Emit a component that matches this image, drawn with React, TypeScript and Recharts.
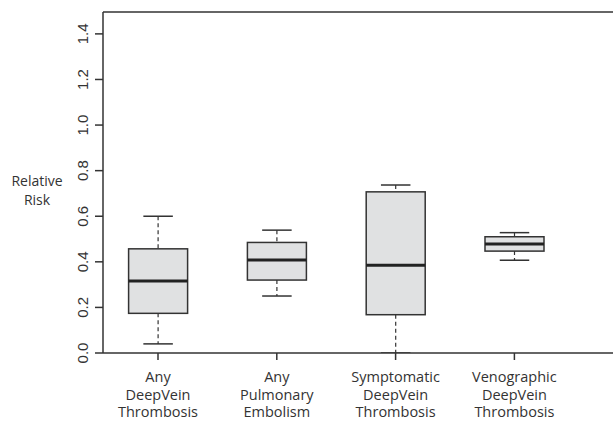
import { ComposedChart, Bar, XAxis, YAxis, ReferenceLine } from 'recharts';

const categories = [
  ['Any', 'DeepVein', 'Thrombosis'],
  ['Any', 'Pulmonary', 'Embolism'],
  ['Symptomatic', 'DeepVein', 'Thrombosis'],
  ['Venographic', 'DeepVein', 'Thrombosis'],
];
const whiskerLow = [0.04, 0.25, 0.0, 0.407];
const q1 = [0.174, 0.32, 0.168, 0.447];
const median = [0.316, 0.408, 0.385, 0.478];
const q3 = [0.457, 0.485, 0.707, 0.51];
const whiskerHigh = [0.6, 0.539, 0.737, 0.528];
const yTicks = [0, 0.2, 0.4, 0.6, 0.8, 1.0, 1.2, 1.4];

const Y_MAX = 1.496;
const INK = '#333333';
const BOX_FILL = '#e0e1e2';

const data = categories.map((lines, i) => ({
  pos: i + 1,
  lines,
  lo: whiskerLow[i],
  q1: q1[i],
  med: median[i],
  q3: q3[i],
  hi: whiskerHigh[i],
}));

// draws one box and whiskers inside the range bar [lo, hi]
const BoxShape = (props: any) => {
  const { x, y, width, height, payload } = props;
  const top = Math.min(y, y + height);
  const h = Math.abs(height);
  const span = payload.hi - payload.lo;
  const py = (v: number) => top + ((payload.hi - v) / span) * h;
  const cx = x + width / 2;
  const capHalf = width / 4;
  const yHi = py(payload.hi);
  const yQ3 = py(payload.q3);
  const yMed = py(payload.med);
  const yQ1 = py(payload.q1);
  const yLo = py(payload.lo);
  return (
    <g>
      <line x1={cx} x2={cx} y1={yHi} y2={yQ3} stroke={INK} strokeWidth={1.2} strokeDasharray="4 3" />
      <line x1={cx} x2={cx} y1={yQ1} y2={yLo} stroke={INK} strokeWidth={1.2} strokeDasharray="4 3" />
      <line x1={cx - capHalf} x2={cx + capHalf} y1={yHi} y2={yHi} stroke={INK} strokeWidth={1.5} />
      <line x1={cx - capHalf} x2={cx + capHalf} y1={yLo} y2={yLo} stroke={INK} strokeWidth={1.5} />
      <rect x={x} y={yQ3} width={width} height={yQ1 - yQ3} fill={BOX_FILL} stroke={INK} strokeWidth={1.5} />
      <line x1={x} x2={x + width} y1={yMed} y2={yMed} stroke="#222" strokeWidth={3} />
    </g>
  );
};

const XTick = (props: any) => {
  const { x, y, payload } = props;
  const lines = categories[payload.value - 1] || [];
  return (
    <text x={x} y={y} textAnchor="middle" fill={INK} fontSize={14.5} fontFamily="'Open Sans', sans-serif">
      {lines.map((l, i) => (
        <tspan key={i} x={x} y={y + 20 + i * 17.5}>
          {l}
        </tspan>
      ))}
    </text>
  );
};

const YTick = (props: any) => {
  const { y, payload } = props;
  const tx = 88;
  return (
    <text
      x={tx}
      y={y}
      transform={`rotate(-90 ${tx} ${y})`}
      textAnchor="middle"
      fill={INK}
      fontSize={15}
      fontFamily="'Liberation Sans', Arial, sans-serif"
    >
      {payload.value.toFixed(1)}
    </text>
  );
};

const YLabel = () => (
  <g fill={INK} fontSize={14} fontFamily="'Open Sans', sans-serif">
    <text x={37} y={186} textAnchor="middle">Relative</text>
    <text x={37} y={205} textAnchor="middle">Risk</text>
  </g>
);

export default function App() {
  return (
    <div style={{ width: 613, height: 421, background: '#fff' }}>
      <style>{'body{margin:0}'}</style>
      <ComposedChart width={613} height={421} data={data} margin={{ top: 12, right: 0, bottom: 0, left: 0 }}>
        <XAxis
          type="number"
          dataKey="pos"
          domain={[0.537, 4.83]}
          ticks={[1, 2, 3, 4]}
          allowDataOverflow
          tick={<XTick />}
          tickSize={7}
          height={68}
          interval={0}
          axisLine={{ stroke: INK, strokeWidth: 1.5 }}
          tickLine={{ stroke: INK, strokeWidth: 1.5 }}
        />
        <YAxis
          type="number"
          domain={[0, Y_MAX]}
          ticks={yTicks}
          allowDataOverflow
          width={103}
          tickSize={8}
          tick={<YTick />}
          interval={0}
          axisLine={{ stroke: INK, strokeWidth: 1.5 }}
          tickLine={{ stroke: INK, strokeWidth: 1.5 }}
          label={<YLabel />}
        />
        <ReferenceLine y={Y_MAX} stroke={INK} strokeWidth={1.5} ifOverflow="extendDomain" />
        <Bar dataKey={(d: any) => [d.lo, d.hi]} barSize={59} shape={<BoxShape />} isAnimationActive={false} />
      </ComposedChart>
    </div>
  );
}
